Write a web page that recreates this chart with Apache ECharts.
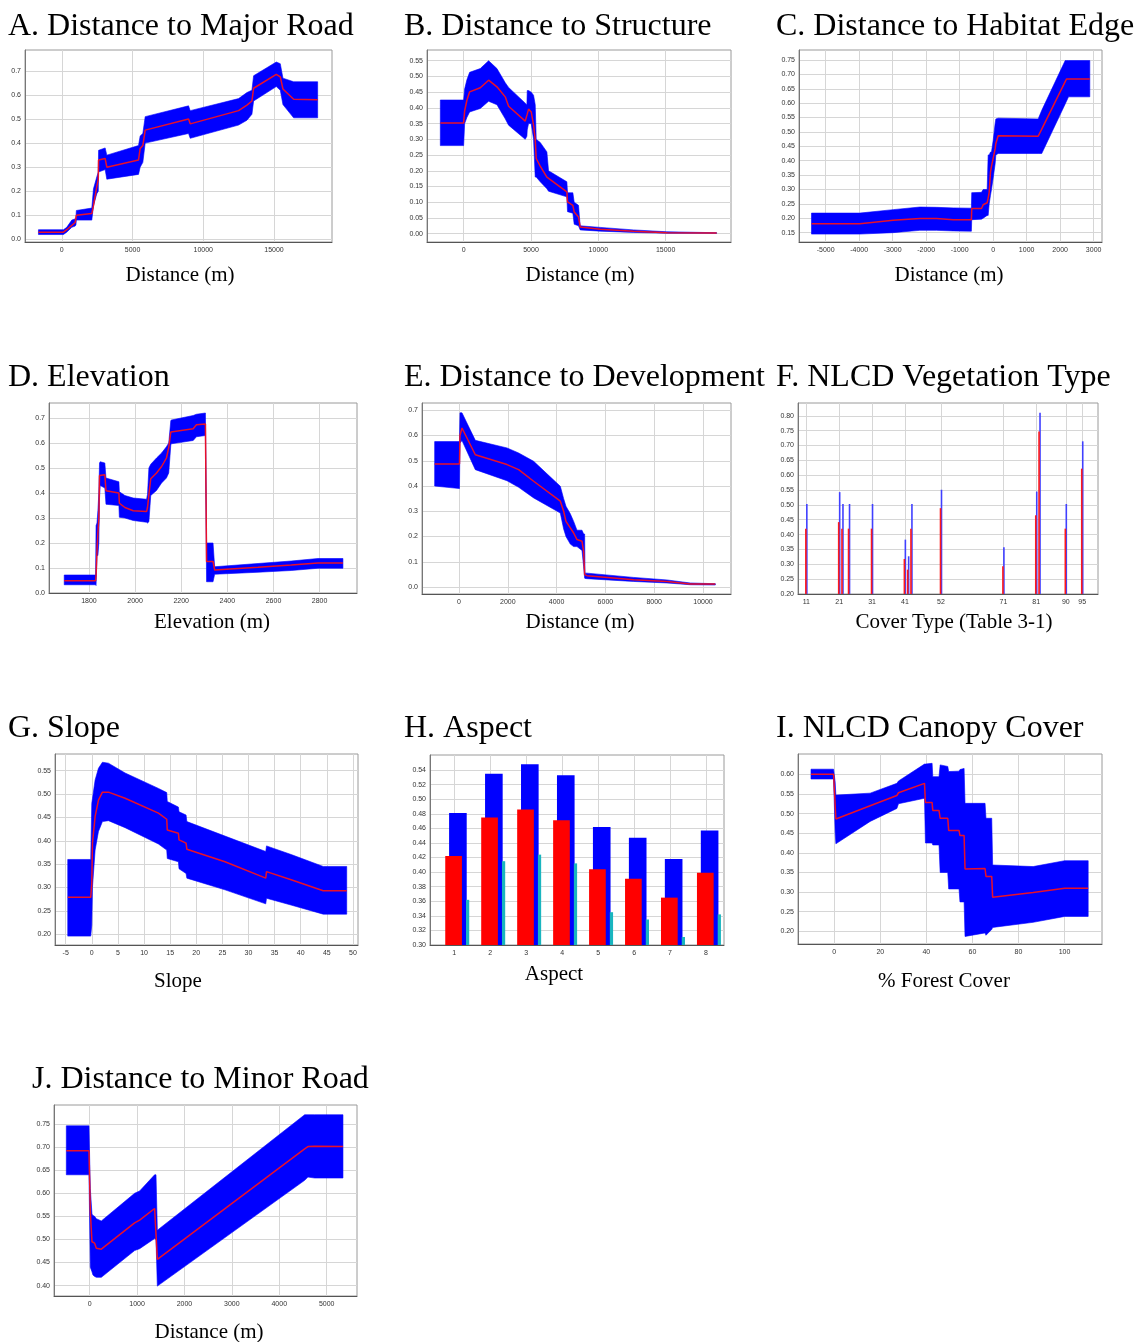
<!DOCTYPE html>
<html><head><meta charset="utf-8">
<script src="https://cdn.jsdelivr.net/npm/echarts@6/dist/echarts.min.js"></script>
<style>html,body{margin:0;padding:0;background:#fff}#c{width:1136px;height:1342px}</style>
</head><body><div id="c"></div><script>
// ---------- A. Distance to Major Road ----------
const aX    = [-1650, 118, 350, 707, 943, 1000, 1030, 2122, 2240, 2476, 2580, 2600, 3065, 3183, 5423, 5541, 5730, 5895, 8960, 9078, 12497, 13087, 13440, 13559, 15162, 15445, 15633, 16388, 18086];
const aMean = [0.03, 0.03, 0.04, 0.058, 0.07, 0.07, 0.1, 0.107, 0.14, 0.22, 0.25, 0.33, 0.336, 0.30, 0.33, 0.378, 0.39, 0.454, 0.50, 0.48, 0.535, 0.558, 0.575, 0.628, 0.686, 0.675, 0.625, 0.582, 0.58];
const aLo   = [0.02, 0.02, 0.03, 0.05, 0.055, 0.06, 0.08, 0.08, 0.14, 0.19, 0.20, 0.28, 0.29, 0.25, 0.27, 0.30, 0.32, 0.40, 0.44, 0.42, 0.475, 0.495, 0.52, 0.575, 0.635, 0.62, 0.56, 0.505, 0.505];
const aHi   = [0.04, 0.04, 0.05, 0.08, 0.085, 0.09, 0.12, 0.13, 0.21, 0.26, 0.28, 0.37, 0.38, 0.35, 0.39, 0.43, 0.44, 0.51, 0.555, 0.535, 0.585, 0.61, 0.62, 0.68, 0.737, 0.73, 0.67, 0.655, 0.655];
const aXTicks = [0, 5000, 10000, 15000];
const aYTicks = [0, 0.1, 0.2, 0.3, 0.4, 0.5, 0.6, 0.7];

// ---------- B. Distance to Structure ----------
const bX    = [-1730, 0, 74, 247, 445, 1236, 1854, 2472, 3090, 3337, 4573, 4697, 4722, 4820, 5018, 5191, 5315, 5389, 5686, 6180, 6304, 7663, 7713, 8109, 8208, 8530, 8652, 10135, 12607, 15079, 18787];
const bMean = [0.352, 0.352, 0.39, 0.425, 0.451, 0.464, 0.488, 0.467, 0.435, 0.405, 0.358, 0.357, 0.38, 0.396, 0.387, 0.345, 0.30, 0.239, 0.215, 0.18, 0.175, 0.133, 0.101, 0.09, 0.069, 0.053, 0.021, 0.014, 0.0075, 0.003, 0.002];
const bLo   = [0.28, 0.28, 0.35, 0.37, 0.387, 0.398, 0.421, 0.41, 0.365, 0.345, 0.30, 0.31, 0.33, 0.35, 0.35, 0.30, 0.18, 0.18, 0.165, 0.143, 0.135, 0.117, 0.07, 0.065, 0.03, 0.025, 0.012, 0.008, 0.004, 0.0015, 0.001];
const bHi   = [0.425, 0.425, 0.46, 0.49, 0.513, 0.525, 0.55, 0.525, 0.48, 0.465, 0.415, 0.41, 0.455, 0.455, 0.45, 0.44, 0.41, 0.30, 0.29, 0.26, 0.20, 0.165, 0.13, 0.13, 0.10, 0.09, 0.025, 0.02, 0.012, 0.006, 0.003];
const bXTicks = [0, 5000, 10000, 15000];
const bYTicks = [0, 0.05, 0.1, 0.15, 0.2, 0.25, 0.3, 0.35, 0.4, 0.45, 0.5, 0.55];

// ---------- C. Distance to Habitat Edge ----------
const cX    = [-5423, -3980, -2985, -2189, -1692, -1194, -650, -640, -348, -299, -179, -149, -119, -80, -50, 0, 60, 80, 149, 1343, 1450, 2150, 2189, 2250, 2885];
const cMean = [0.181, 0.181, 0.193, 0.199, 0.199, 0.195, 0.195, 0.234, 0.234, 0.247, 0.254, 0.27, 0.29, 0.36, 0.38, 0.408, 0.442, 0.46, 0.487, 0.485, 0.51, 0.675, 0.684, 0.684, 0.684];
const cLo   = [0.145, 0.145, 0.15, 0.158, 0.158, 0.156, 0.155, 0.195, 0.197, 0.20, 0.21, 0.21, 0.25, 0.28, 0.30, 0.34, 0.39, 0.42, 0.425, 0.425, 0.425, 0.597, 0.607, 0.622, 0.622];
const cHi   = [0.218, 0.218, 0.23, 0.239, 0.238, 0.236, 0.235, 0.289, 0.29, 0.30, 0.30, 0.42, 0.42, 0.43, 0.43, 0.47, 0.53, 0.545, 0.548, 0.545, 0.575, 0.748, 0.748, 0.748, 0.748];
const cXTicks = [-5000, -4000, -3000, -2000, -1000, 0, 1000, 2000, 3000];
const cYTicks = [0.15, 0.2, 0.25, 0.3, 0.35, 0.4, 0.45, 0.5, 0.55, 0.6, 0.65, 0.7, 0.75];

// ---------- D. Elevation ----------
const dX    = [1693, 1829, 1831, 1835, 1839, 1843, 1846, 1849, 1869, 1874, 1930, 1932, 1956, 1992, 2050, 2054, 2060, 2068, 2093, 2115, 2136, 2146, 2155, 2158, 2252, 2266, 2305, 2310, 2338, 2345, 2533, 2677, 2793, 2901];
const dMean = [0.049, 0.049, 0.07, 0.17, 0.24, 0.30, 0.47, 0.473, 0.473, 0.409, 0.40, 0.359, 0.342, 0.329, 0.326, 0.342, 0.393, 0.457, 0.48, 0.506, 0.54, 0.582, 0.644, 0.648, 0.657, 0.673, 0.676, 0.126, 0.126, 0.092, 0.103, 0.112, 0.12, 0.12];
const dLo   = [0.033, 0.033, 0.03, 0.15, 0.15, 0.20, 0.38, 0.43, 0.42, 0.355, 0.35, 0.303, 0.30, 0.29, 0.283, 0.28, 0.285, 0.39, 0.41, 0.44, 0.46, 0.48, 0.593, 0.597, 0.61, 0.625, 0.63, 0.045, 0.045, 0.075, 0.083, 0.09, 0.099, 0.099];
const dHi   = [0.072, 0.072, 0.27, 0.28, 0.33, 0.40, 0.52, 0.525, 0.52, 0.46, 0.445, 0.405, 0.39, 0.38, 0.375, 0.395, 0.50, 0.515, 0.54, 0.56, 0.585, 0.60, 0.69, 0.692, 0.71, 0.715, 0.72, 0.20, 0.20, 0.105, 0.118, 0.128, 0.138, 0.138];
const dXTicks = [1800, 2000, 2200, 2400, 2600, 2800];
const dYTicks = [0, 0.1, 0.2, 0.3, 0.4, 0.5, 0.6, 0.7];

// ---------- E. Distance to Development ----------
const eX    = [-997, 20, 40, 123, 669, 1967, 2445, 3060, 4153, 4289, 4385, 4562, 4699, 4836, 5041, 5109, 5150, 5165, 5245, 7158, 8524, 9480, 10505];
const eMean = [0.487, 0.487, 0.60, 0.63, 0.524, 0.485, 0.465, 0.419, 0.34, 0.30, 0.26, 0.234, 0.214, 0.188, 0.181, 0.141, 0.049, 0.046, 0.045, 0.029, 0.022, 0.012, 0.012];
const eLo   = [0.40, 0.39, 0.57, 0.58, 0.465, 0.421, 0.395, 0.353, 0.293, 0.23, 0.20, 0.17, 0.16, 0.16, 0.145, 0.08, 0.035, 0.034, 0.033, 0.022, 0.016, 0.009, 0.008];
const eHi   = [0.576, 0.576, 0.69, 0.69, 0.581, 0.551, 0.531, 0.498, 0.399, 0.35, 0.32, 0.29, 0.26, 0.225, 0.225, 0.21, 0.21, 0.055, 0.055, 0.038, 0.028, 0.016, 0.013];
const eXTicks = [0, 2000, 4000, 6000, 8000, 10000];
const eYTicks = [0, 0.1, 0.2, 0.3, 0.4, 0.5, 0.6, 0.7];

// ---------- F. NLCD Vegetation Type ----------
const fCodes = [11, 21, 22, 24, 31, 41, 42, 43, 52, 71, 81, 82, 90, 95];
const fBlue  = [0.503, 0.543, 0.503, 0.503, 0.503, 0.383, 0.327, 0.503, 0.551, 0.357, 0.545, 0.81, 0.503, 0.714];
const fRed   = [0.42, 0.442, 0.42, 0.42, 0.42, 0.318, 0.282, 0.42, 0.489, 0.293, 0.465, 0.747, 0.42, 0.622];
const fXTicks = [11, 21, 31, 41, 52, 71, 81, 90, 95];
const fYTicks = [0.2, 0.25, 0.3, 0.35, 0.4, 0.45, 0.5, 0.55, 0.6, 0.65, 0.7, 0.75, 0.8];

// ---------- G. Slope ----------
const gX    = [-4.6, -0.2, 0, 0.13, 0.64, 1.28, 2.04, 3.19, 6.38, 12.76, 14.35, 14.45, 16.58, 16.7, 18.05, 18.2, 25.5, 33.3, 33.45, 38.3, 44.3, 48.8];
const gMean = [0.279, 0.279, 0.309, 0.395, 0.452, 0.487, 0.504, 0.504, 0.491, 0.459, 0.446, 0.423, 0.416, 0.402, 0.395, 0.382, 0.355, 0.32, 0.334, 0.316, 0.293, 0.293];
const gLo   = [0.196, 0.196, 0.22, 0.30, 0.38, 0.42, 0.441, 0.443, 0.428, 0.393, 0.38, 0.362, 0.355, 0.34, 0.33, 0.32, 0.295, 0.265, 0.277, 0.262, 0.243, 0.243];
const gHi   = [0.36, 0.36, 0.48, 0.49, 0.53, 0.555, 0.568, 0.566, 0.545, 0.512, 0.503, 0.484, 0.472, 0.462, 0.455, 0.441, 0.41, 0.377, 0.389, 0.37, 0.345, 0.345];
const gXTicks = [-5, 0, 5, 10, 15, 20, 25, 30, 35, 40, 45, 50];
const gYTicks = [0.2, 0.25, 0.3, 0.35, 0.4, 0.45, 0.5, 0.55];

// ---------- H. Aspect ----------
const hAspect = [1, 2, 3, 4, 5, 6, 7, 8];
const hBlue   = [0.481, 0.535, 0.548, 0.533, 0.462, 0.447, 0.418, 0.457];
const hRed    = [0.422, 0.475, 0.486, 0.471, 0.404, 0.391, 0.365, 0.399];
const hCyan   = [0.362, 0.415, 0.424, 0.412, 0.345, 0.335, 0.311, 0.342];
const hYTicks = [0.30, 0.32, 0.34, 0.36, 0.38, 0.40, 0.42, 0.44, 0.46, 0.48, 0.50, 0.52, 0.54];

// ---------- I. NLCD Canopy Cover ----------
const iX    = [-10.1, -0.3, 0.4, 0.7, 15.6, 27.2, 27.9, 39.2, 39.6, 42.5, 42.8, 45.5, 46, 49.3, 49.7, 54.2, 54.6, 56.4, 56.8, 65.5, 65.9, 68.4, 68.8, 86.4, 100.1, 110.3];
const iMean = [0.60, 0.60, 0.52, 0.486, 0.52, 0.546, 0.553, 0.577, 0.528, 0.528, 0.508, 0.508, 0.488, 0.488, 0.457, 0.457, 0.444, 0.444, 0.359, 0.36, 0.34, 0.34, 0.287, 0.299, 0.31, 0.31];
const iLo   = [0.588, 0.588, 0.45, 0.423, 0.48, 0.513, 0.525, 0.539, 0.425, 0.425, 0.42, 0.42, 0.35, 0.35, 0.308, 0.308, 0.275, 0.275, 0.187, 0.196, 0.19, 0.205, 0.21, 0.223, 0.238, 0.238];
const iHi   = [0.613, 0.613, 0.58, 0.547, 0.552, 0.577, 0.583, 0.626, 0.626, 0.628, 0.594, 0.594, 0.624, 0.62, 0.607, 0.608, 0.612, 0.615, 0.526, 0.526, 0.488, 0.488, 0.369, 0.365, 0.38, 0.38];
const iXTicks = [0, 20, 40, 60, 80, 100];
const iYTicks = [0.2, 0.25, 0.3, 0.35, 0.4, 0.45, 0.5, 0.55, 0.6];

// ---------- J. Distance to Minor Road ----------
const jX    = [-492, -14, 14, 49, 70, 105, 141, 246, 949, 1055, 1371, 1400, 1428, 4536, 4606, 4747, 5344];
const jMean = [0.692, 0.692, 0.56, 0.495, 0.494, 0.492, 0.481, 0.479, 0.536, 0.542, 0.567, 0.567, 0.457, 0.696, 0.701, 0.702, 0.701];
const jLo   = [0.64, 0.64, 0.44, 0.43, 0.423, 0.42, 0.418, 0.418, 0.476, 0.48, 0.502, 0.50, 0.399, 0.628, 0.635, 0.633, 0.633];
const jHi   = [0.746, 0.746, 0.61, 0.555, 0.552, 0.55, 0.545, 0.54, 0.60, 0.605, 0.64, 0.64, 0.52, 0.77, 0.77, 0.77, 0.77];
const jXTicks = [0, 1000, 2000, 3000, 4000, 5000];
const jYTicks = [0.40, 0.45, 0.5, 0.55, 0.6, 0.65, 0.7, 0.75];

// ---------- layout ----------
const BLUE = '#0000ff', RED = '#e8102a';
const panels = [
  {title:'A. Distance to Major Road', tx:8, ty:27, xname:'Distance (m)', nx:180, ny:275, g:{left:25, top:50, width:307, height:192}, xr:[-2600, 19100], yr:[-0.011, 0.787], xt:aXTicks, yt:aYTicks, yd:1},
  {title:'B. Distance to Structure', tx:404, ty:27, xname:'Distance (m)', nx:580, ny:275, g:{left:427, top:50, width:304, height:192}, xr:[-2720, 19850], yr:[-0.0265, 0.584], xt:bXTicks, yt:bYTicks, yd:2},
  {title:'C. Distance to Habitat Edge', tx:776, ty:27, xname:'Distance (m)', nx:949, ny:275, g:{left:799, top:50, width:303, height:192}, xr:[-5796, 3249], yr:[0.1175, 0.7848], xt:cXTicks, yt:cYTicks, yd:2},
  {title:'D. Elevation', tx:8, ty:378, xname:'Elevation (m)', nx:212, ny:622, g:{left:49, top:403, width:308, height:190}, xr:[1627, 2962], yr:[0, 0.76], xt:dXTicks, yt:dYTicks, yd:1},
  {title:'E. Distance to Development', tx:404, ty:378, xname:'Distance (m)', nx:580, ny:622, g:{left:422, top:403, width:309, height:191}, xr:[-1516, 11148], yr:[-0.0277, 0.729], xt:eXTicks, yt:eYTicks, yd:1},
  {title:'F. NLCD Vegetation Type', tx:776, ty:378, xname:'Cover Type (Table 3-1)', nx:954, ny:622, g:{left:798, top:403, width:300, height:191}, xr:[8.46, 99.8], yr:[0.2, 0.843], xt:fXTicks, yt:fYTicks, yd:2},
  {title:'G. Slope', tx:8, ty:729, xname:'Slope', nx:178, ny:981, g:{left:55, top:754, width:303, height:191}, xr:[-7.04, 50.96], yr:[0.177, 0.5856], xt:gXTicks, yt:gYTicks, yd:2},
  {title:'H. Aspect', tx:404, ty:729, xname:'Aspect', nx:554, ny:974, g:{left:430, top:755, width:294, height:190}, xr:[0.324, 8.5], yr:[0.3, 0.5607], xt:hAspect, yt:hYTicks, yd:2},
  {title:'I. NLCD Canopy Cover', tx:776, ty:729, xname:'% Forest Cover', nx:944, ny:981, g:{left:798, top:754, width:304, height:190}, xr:[-15.75, 116.3], yr:[0.1678, 0.6517], xt:iXTicks, yt:iYTicks, yd:2},
  {title:'J. Distance to Minor Road', tx:32, ty:1080, xname:'Distance (m)', nx:209, ny:1332, g:{left:54, top:1105, width:303, height:191}, xr:[-752, 5640], yr:[0.3776, 0.7911], xt:jXTicks, yt:jYTicks, yd:2}
];

const grids = [], xAxes = [], yAxes = [], series = [], graphics = [];
panels.forEach((p, gi) => {
  grids.push(Object.assign({show:true, borderColor:'#9a9a9a', borderWidth:1, backgroundColor:'#fff'}, p.g));
  xAxes.push({
    type:'value', gridIndex:gi, min:p.xr[0], max:p.xr[1],
    axisLine:{show:true, onZero:false, lineStyle:{color:'#555', width:1}},
    axisTick:{show:false, customValues:p.xt},
    axisLabel:{customValues:p.xt, fontSize:7, color:'#333', margin:5, fontFamily:'Liberation Sans', formatter:v => String(Math.round(v))},
    splitLine:{show:true, lineStyle:{color:'#d6d6d6', width:1}}
  });
  yAxes.push({
    type:'value', gridIndex:gi, min:p.yr[0], max:p.yr[1],
    axisLine:{show:true, onZero:false, lineStyle:{color:'#777', width:1}},
    axisTick:{show:false, customValues:p.yt},
    axisLabel:{customValues:p.yt, fontSize:7, color:'#333', margin:4, fontFamily:'Liberation Sans', formatter:v => v.toFixed(p.yd)},
    splitLine:{show:true, lineStyle:{color:'#d6d6d6', width:1}}
  });
  graphics.push({type:'text', x:p.tx, y:p.ty, style:{text:p.title, font:"32px 'Liberation Serif'", fill:'#000', textAlign:'left', textVerticalAlign:'middle'}});
  graphics.push({type:'text', x:p.nx, y:p.ny, style:{text:p.xname, font:"21px 'Liberation Serif'", fill:'#000', textAlign:'center', textVerticalAlign:'middle'}});
});

function band(gi, xs, lo, hi) {
  return {
    type:'custom', xAxisIndex:gi, yAxisIndex:gi, silent:true, z:2,
    data: xs.map((x, i) => [x, lo[i], hi[i]]),
    encode:{x:0, y:[1, 2]},
    renderItem: function (params, api) {
      if (params.dataIndex !== 0) return null;
      const pts = [];
      for (let i = 0; i < xs.length; i++) pts.push(api.coord([xs[i], hi[i]]));
      for (let i = xs.length - 1; i >= 0; i--) pts.push(api.coord([xs[i], lo[i]]));
      return {type:'polygon', shape:{points:pts}, style:{fill:BLUE, stroke:BLUE, lineWidth:0.6}};
    }
  };
}
function meanLine(gi, xs, m) {
  return {type:'line', xAxisIndex:gi, yAxisIndex:gi, z:3, symbol:'none', silent:true,
    data: xs.map((x, i) => [x, m[i]]), lineStyle:{color:RED, width:1.5}};
}
const curves = [[0, aX, aMean, aLo, aHi], [1, bX, bMean, bLo, bHi], [2, cX, cMean, cLo, cHi], [3, dX, dMean, dLo, dHi], [4, eX, eMean, eLo, eHi], [6, gX, gMean, gLo, gHi], [8, iX, iMean, iLo, iHi], [9, jX, jMean, jLo, jHi]];
curves.forEach(c => { series.push(band(c[0], c[1], c[3], c[4])); series.push(meanLine(c[0], c[1], c[2])); });

// F stems
series.push({type:'bar', xAxisIndex:5, yAxisIndex:5, barWidth:1.6, barGap:'-100%', silent:true,
  data: fCodes.map((c, i) => [c + 0.15, fBlue[i]]), itemStyle:{color:'#4040ff'}});
series.push({type:'bar', xAxisIndex:5, yAxisIndex:5, barWidth:1.6, barGap:'-100%', silent:true,
  data: fCodes.map((c, i) => [c - 0.15, fRed[i]]), itemStyle:{color:'#ff1a1a'}});

// H bars (custom rects through the axis scales)
function hBars(vals, shift, halfW, color, z) {
  return {type:'custom', xAxisIndex:7, yAxisIndex:7, silent:true, z:z,
    data: hAspect.map((a, i) => [a, vals[i]]),
    renderItem: function (params, api) {
      const x = api.value(0) + shift, v = api.value(1);
      const p0 = api.coord([x - halfW, v]);
      const p1 = api.coord([x + halfW, 0.3]);
      return {type:'rect', shape:{x:p0[0], y:p0[1], width:p1[0] - p0[0], height:p1[1] - p0[1]}, style:{fill:color}};
    }};
}
series.push(hBars(hBlue, 0.10, 0.245, BLUE, 2));
series.push(hBars(hRed, -0.02, 0.232, '#ff0000', 3));
series.push(hBars(hCyan, 0.37, 0.045, '#19b5bf', 2));

const chart = echarts.init(document.getElementById('c'), null, {renderer:'canvas'});
chart.setOption({animation:false, backgroundColor:'#fff', grid:grids, xAxis:xAxes, yAxis:yAxes, series:series, graphic:graphics});
</script></body></html>
